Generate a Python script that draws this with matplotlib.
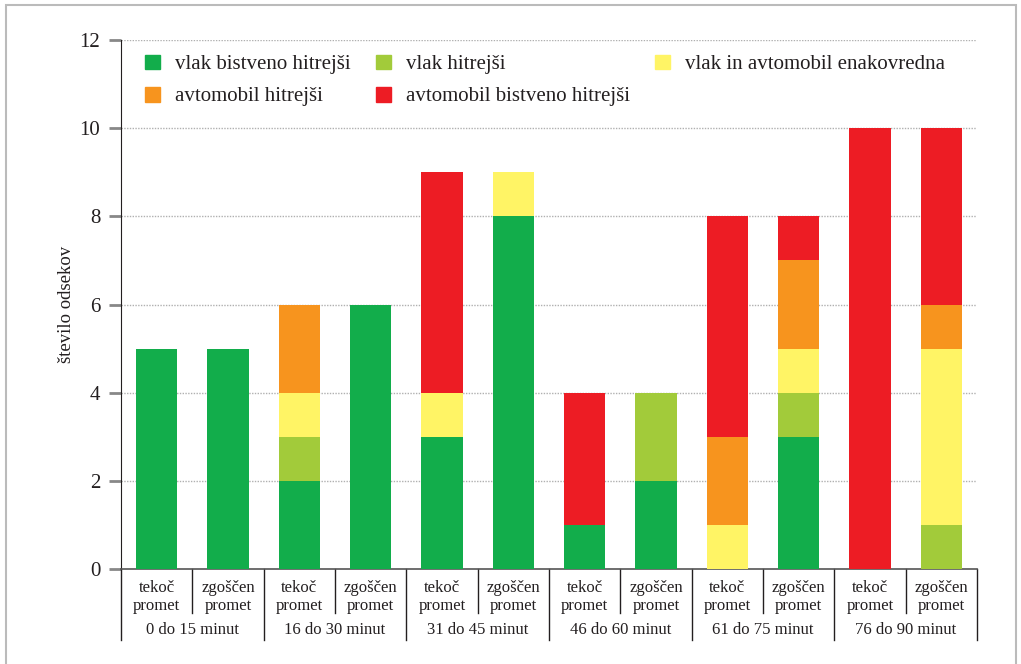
import matplotlib.pyplot as plt
import matplotlib.patches as mpatches
import numpy as np

plt.rcParams['font.family'] = ['Liberation Serif', 'DejaVu Serif']

# data
bar_labels = ["tekoč\npromet", "zgoščen\npromet"] * 6
groups = ["0 do 15 minut", "16 do 30 minut", "31 do 45 minut",
          "46 do 60 minut", "61 do 75 minut", "76 do 90 minut"]

vlak_bistveno = [5, 5, 2, 6, 3, 8, 1, 2, 0, 3, 0, 0]
vlak_hitrejsi = [0, 0, 1, 0, 0, 0, 0, 2, 0, 1, 0, 1]
enakovredna   = [0, 0, 1, 0, 1, 1, 0, 0, 1, 1, 0, 4]
avto_hitrejsi = [0, 0, 2, 0, 0, 0, 0, 0, 2, 2, 0, 1]
avto_bistveno = [0, 0, 0, 0, 5, 0, 3, 0, 5, 1, 10, 4]

series = [
    ("vlak bistveno hitrejši", vlak_bistveno, "#12ad4b"),
    ("vlak hitrejši", vlak_hitrejsi, "#a2cb3a"),
    ("vlak in avtomobil enakovredna", enakovredna, "#fff465"),
    ("avtomobil hitrejši", avto_hitrejsi, "#f7941e"),
    ("avtomobil bistveno hitrejši", avto_bistveno, "#ed1c24"),
]

fig = plt.figure(figsize=(10.21, 6.64), dpi=100)
ax = fig.add_axes([121/1021, 1-569/664, (977-121)/1021, (569-40)/664])

x = np.arange(len(bar_labels))
bottom = np.zeros(len(x))
handles = {}
for name, vals, col in series:
    vals = np.array(vals, dtype=float)
    ax.bar(x, vals, 0.58, bottom=bottom, color=col, zorder=3)
    bottom += vals
    handles[name] = mpatches.Patch(color=col, label=name)

ax.set_xlim(-0.5, len(x) - 0.5)
ax.set_ylim(0, 12)
ax.set_yticks(range(0, 13, 2))
ax.tick_params(axis='y', labelsize=15, length=9, width=2, color='#888888',
               labelcolor='#231f20', pad=6)
ax.set_xticks([])
for yv in range(2, 13, 2):
    ax.axhline(yv, color='#b0b0b0', lw=1, ls=(0, (1, 1)), zorder=1)

for s in ['top', 'right']:
    ax.spines[s].set_visible(False)
ax.spines['left'].set_color('#231f20')
ax.spines['bottom'].set_color('#555555')
ax.spines['bottom'].set_linewidth(1.2)

ax.set_ylabel("število odsekov", fontsize=13.5, color='#231f20', labelpad=3)

# category labels below axis
trans = ax.get_xaxis_transform()
for i, lab in enumerate(bar_labels):
    ax.text(i, -0.02, lab, transform=trans, ha='center', va='top',
            fontsize=12, color='#231f20', linespacing=1.2)
for i in range(len(x) + 1):
    xp = i - 0.5
    low = -0.134 if i % 2 == 0 else -0.083
    ax.plot([xp, xp], [0, low], transform=trans, color='#231f20', lw=1,
            clip_on=False)
for g, name in enumerate(groups):
    ax.text(2 * g + 0.5, -0.115, name, transform=trans, ha='center',
            va='center', fontsize=12, color='#231f20')

order = ["vlak bistveno hitrejši", "avtomobil hitrejši", "vlak hitrejši",
         "avtomobil bistveno hitrejši", "vlak in avtomobil enakovredna"]
leg = ax.legend(handles=[handles[n] for n in order], ncol=3, frameon=False,
                loc='upper left', bbox_to_anchor=(0.006, 1.008), fontsize=15,
                handlelength=0.72, handleheight=0.72, handletextpad=0.72,
                columnspacing=1.2, labelspacing=0.6)
for t in leg.get_texts():
    t.set_color('#231f20')

# outer frame
fig.patches.append(mpatches.Rectangle((6/1021, -0.01), 1010/1021, 1-5/664 + 0.01,
                                      transform=fig.transFigure, fill=False,
                                      edgecolor='#bbbbbb', lw=1.5))

fig.savefig("out.png", dpi=100)
